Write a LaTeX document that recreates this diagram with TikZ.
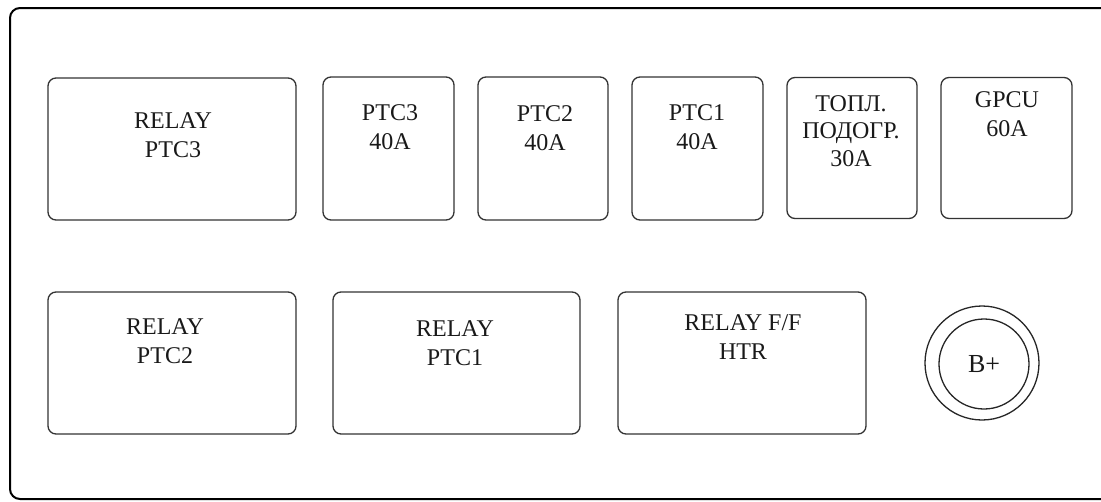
\documentclass[tikz,border=0pt]{standalone}
\usepackage{fontspec}
\setmainfont{Liberation Serif}
\begin{document}
\begin{tikzpicture}[x=1pt,y=-1pt,
  fbox/.style={draw=black!80, line width=1.3pt, rounded corners=8pt, inner sep=0pt},
  lbl/.style={align=center, font=\fontsize{24}{29.5}\selectfont, text=black!90, inner sep=0pt},
  frame/.style={draw=black, line width=2pt, rounded corners=10pt}]
\useasboundingbox (0,0) rectangle (1101,501);
\begin{scope}
\clip (0,0) rectangle (1101,501);
\draw[frame] (10,8) rectangle (1120,499);
\end{scope}
% top row
\node[fbox, minimum width=248pt, minimum height=142pt] (rptc3) at (172,149) {};
\node[fbox, minimum width=131pt, minimum height=143pt] (fptc3) at (388.5,148.5) {};
\node[fbox, minimum width=130pt, minimum height=143pt] (fptc2) at (543,148.5) {};
\node[fbox, minimum width=131pt, minimum height=143pt] (fptc1) at (697.5,148.5) {};
\node[fbox, minimum width=130pt, minimum height=141pt] (ftopl) at (852,148) {};
\node[fbox, minimum width=131pt, minimum height=141pt] (fgpcu) at (1006.5,148) {};
\node[lbl] (trptc3) at (173,135) {RELAY\\PTC3};
\node[lbl] (tfptc3) at (390,127) {PTC3\\40A};
\node[lbl] (tfptc2) at (545,128) {PTC2\\40A};
\node[lbl] (tfptc1) at (697,127) {PTC1\\40A};
\node[lbl, font=\fontsize{24}{27.5}\selectfont] (ttopl) at (851,131) {ТОПЛ.\\ПОДОГР.\\30A};
\node[lbl] (tgpcu) at (1007,114) {GPCU\\60A};
% bottom row
\node[fbox, minimum width=248pt, minimum height=142pt] (rptc2) at (172,363) {};
\node[fbox, minimum width=247pt, minimum height=142pt] (rptc1) at (456.5,363) {};
\node[fbox, minimum width=248pt, minimum height=142pt] (rff) at (742,363) {};
\node[lbl] (trptc2) at (165,341) {RELAY\\PTC2};
\node[lbl] (trptc1) at (455,343) {RELAY\\PTC1};
\node[lbl] (trff) at (743,337) {RELAY F/F\\HTR};
% B+ terminal
\node[circle, draw=black!85, line width=1.3pt, minimum size=114pt, inner sep=0pt] (bouter) at (982,363) {};
\node[circle, draw=black!85, line width=1.3pt, minimum size=90pt, inner sep=0pt, text=black!90, font=\fontsize{26}{30}\selectfont] (binner) at (984,364) {B+};
\end{tikzpicture}
\end{document}
